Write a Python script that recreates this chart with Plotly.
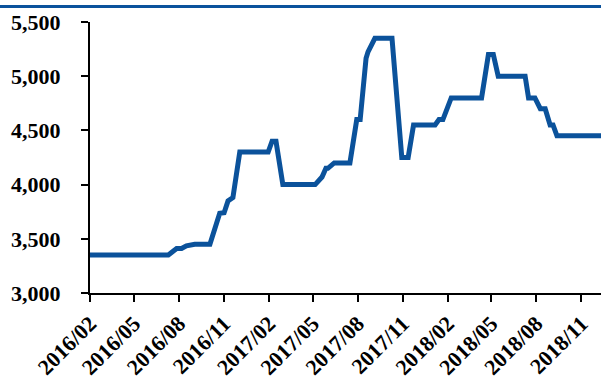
import plotly.graph_objects as go

# Price series: turning points of the weekly quote (date, level)
dates = [
    "2016-02-01", "2016-07-10", "2016-07-27", "2016-08-06", "2016-08-16",
    "2016-09-02", "2016-10-03", "2016-10-23", "2016-11-01", "2016-11-09",
    "2016-11-19", "2016-12-03", "2017-01-30", "2017-02-07", "2017-02-15",
    "2017-03-01", "2017-05-06", "2017-05-14", "2017-05-20", "2017-05-28",
    "2017-06-01", "2017-06-14", "2017-07-16", "2017-07-30", "2017-08-06",
    "2017-08-18", "2017-08-22", "2017-09-05", "2017-10-10", "2017-10-30",
    "2017-11-12", "2017-11-23", "2018-01-06", "2018-01-14", "2018-01-22",
    "2018-02-08", "2018-04-11", "2018-04-25", "2018-05-05", "2018-05-15",
    "2018-07-09", "2018-07-16", "2018-07-29", "2018-08-09", "2018-08-19",
    "2018-08-29", "2018-09-04", "2018-09-12", "2018-12-11",
]
prices = [
    3350, 3350, 3410, 3410, 3435,
    3450, 3450, 3735, 3740, 3850,
    3880, 4300, 4300, 4400, 4400,
    4000, 4000, 4040, 4070, 4150,
    4150, 4200, 4200, 4600, 4600,
    5165, 5225, 5350, 5350, 4250,
    4250, 4550, 4550, 4600, 4600,
    4800, 4800, 5200, 5200, 5000,
    5000, 4800, 4800, 4700, 4700,
    4550, 4550, 4450, 4450,
]

x_tick_vals = [
    "2016-02-01", "2016-05-01", "2016-08-01", "2016-11-01",
    "2017-02-01", "2017-05-01", "2017-08-01", "2017-11-01",
    "2018-02-01", "2018-05-01", "2018-08-01", "2018-11-01",
]
x_tick_text = [
    "2016/02", "2016/05", "2016/08", "2016/11",
    "2017/02", "2017/05", "2017/08", "2017/11",
    "2018/02", "2018/05", "2018/08", "2018/11",
]
y_tick_vals = [3000, 3500, 4000, 4500, 5000, 5500]

BLUE = "#0B529B"
FAMILY = "Liberation Serif, Times New Roman, serif"

fig = go.Figure(
    go.Scatter(
        x=dates,
        y=prices,
        mode="lines",
        line=dict(color=BLUE, width=5),
        hoverinfo="x+y",
    )
)

fig.update_layout(
    width=601,
    height=376,
    margin=dict(l=90, r=0, t=22, b=83),
    paper_bgcolor="white",
    plot_bgcolor="white",
    showlegend=False,
    font=dict(family=FAMILY, size=20, color="black"),
    shapes=[
        # header rule across the top of the page
        dict(type="line", xref="paper", yref="paper",
             x0=-90 / 511, x1=1, y0=1 + 15.5 / 271, y1=1 + 15.5 / 271,
             line=dict(color="#0A529C", width=3)),
    ],
)

fig.update_xaxes(
    type="date",
    range=["2016-02-01", "2018-12-11"],
    tickvals=x_tick_vals,
    ticktext=x_tick_text,
    tickangle=-45,
    tickfont=dict(family=FAMILY, size=22, color="black", weight="bold"),
    showline=True,
    linecolor="black",
    linewidth=2,
    ticks="outside",
    ticklen=7,
    tickwidth=2,
    tickcolor="black",
    showgrid=False,
    zeroline=False,
    automargin=False,
)

fig.update_yaxes(
    range=[3000, 5500],
    tickvals=y_tick_vals,
    tickformat=",",
    tickfont=dict(family=FAMILY, size=22, color="black", weight="bold"),
    showline=True,
    linecolor="black",
    linewidth=2,
    ticks="outside",
    ticklen=7,
    tickwidth=2,
    tickcolor="black",
    ticklabelstandoff=16,
    showgrid=False,
    zeroline=False,
    automargin=False,
)

fig.write_html("out.html")
